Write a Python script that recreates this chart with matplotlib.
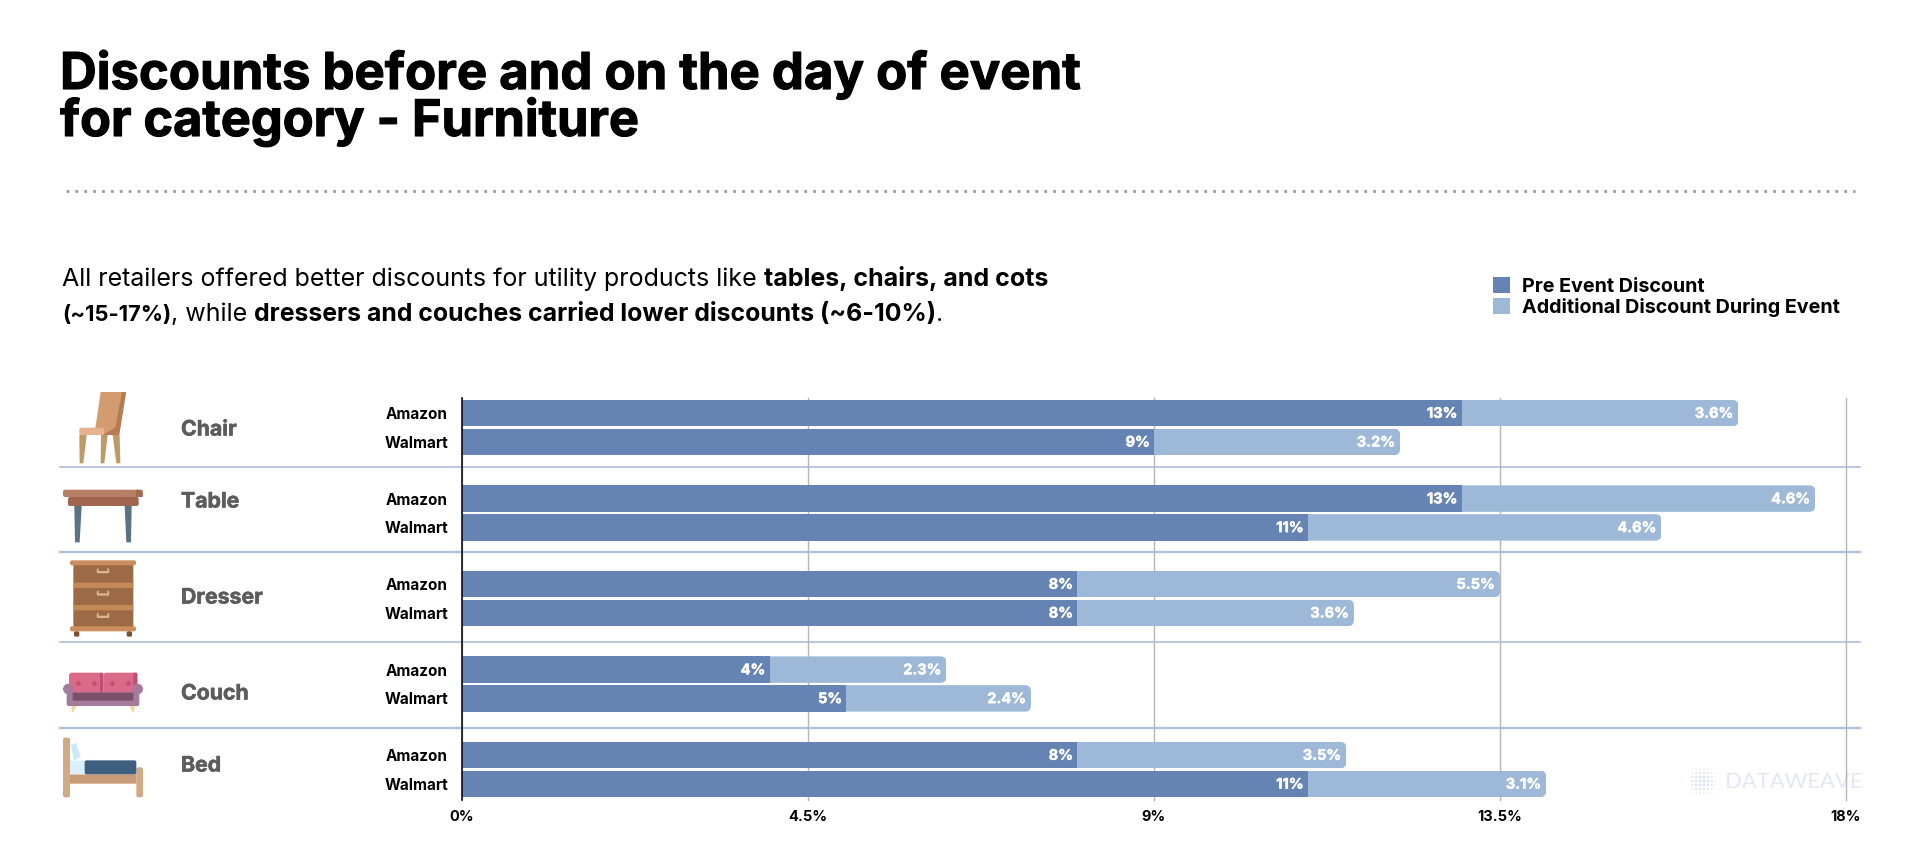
import matplotlib
matplotlib.use("Agg")
import matplotlib.pyplot as plt
import matplotlib.patheffects as pe
import numpy as np
from matplotlib.patches import FancyBboxPatch, Polygon, Circle

# data
categories = ["Chair", "Table", "Dresser", "Couch", "Bed"]
retailers = ["Amazon", "Walmart"]
pre_amazon = [13, 13, 8, 4, 8]
pre_walmart = [9, 11, 8, 5, 11]
add_amazon = [3.6, 4.6, 5.5, 2.3, 3.5]
add_walmart = [3.2, 4.6, 3.6, 2.4, 3.1]
xticks = [0, 4.5, 9, 13.5, 18]
xticklabels = ["0%", "4.5%", "9%", "13.5%", "18%"]

DARK = "#6584b3"
LIGHT = "#9db9d7"
FONT = "Inter"
W, H = 1920, 850

fig = plt.figure(figsize=(W / 100, H / 100), dpi=100, facecolor="white")
plt.rcParams["font.family"] = [FONT, "DejaVu Sans"]

# overlay in pixel coords for the layout stuff
bg = fig.add_axes([0, 0, 1, 1], zorder=0)
bg.set_xlim(0, W)
bg.set_ylim(H, 0)
bg.axis("off")

# main chart
left, right, top, bottom = 462, 1846, 398, 800
ax = fig.add_axes([left / W, 1 - bottom / H, (right - left) / W, (bottom - top) / H], zorder=2)
ax.patch.set_alpha(0)
pitch = 85.5
ax.set_xlim(0, 18)
ax.set_ylim((bottom - 427.5) / pitch, (top - 427.5) / pitch)

off = 14.4 / pitch
bar_h = 26.5 / pitch
idx = np.arange(len(categories))
y_all = np.concatenate([idx - off, idx + off])
pre = np.array(pre_amazon + pre_walmart)
add = np.array(add_amazon + add_walmart)

pre_bars = ax.barh(y_all, pre, height=bar_h, color=DARK, zorder=3, label="Pre Event Discount")
add_bars = ax.barh(y_all, add, left=pre, height=bar_h, color=LIGHT, zorder=3,
                   label="Additional Discount During Event")

# rounded right end of the light bars
r = 6 / 76.9
for b in add_bars:
    clip = FancyBboxPatch((b.get_x() - 1, b.get_y()), b.get_width() + 1, b.get_height(),
                          boxstyle=f"round,pad=0,rounding_size={r}", mutation_aspect=76.9 / pitch,
                          transform=ax.transData)
    b.set_clip_path(clip)

thick = [pe.withStroke(linewidth=0.35, foreground="white")]
for y, p, a in zip(y_all, pre, add):
    ax.annotate(f"{p}%", xy=(p, y), xytext=(-3, -0.5), textcoords="offset points", ha="right", va="center",
                color="white", fontsize=10.5, fontweight="bold", zorder=5, path_effects=thick)
    ax.annotate(f"{a}%", xy=(p + a, y), xytext=(-3.5, -0.5), textcoords="offset points", ha="right", va="center",
                color="white", fontsize=10.5, fontweight="bold", zorder=5, path_effects=thick)

ax.set_yticks(y_all, [retailers[0]] * 5 + [retailers[1]] * 5, fontsize=11, fontweight="bold", color="black")
ax.set_xticks(xticks, xticklabels, fontsize=10.5, fontweight="bold", color="black")
ax.tick_params(axis="y", length=0, pad=10)
ax.tick_params(axis="x", length=0, pad=7)
ax.grid(axis="x", color="#b5b5b5", lw=1, zorder=1, clip_on=False)
ax.set_axisbelow(True)
for s in ["top", "right", "bottom"]:
    ax.spines[s].set_visible(False)
ax.spines["left"].set_color("black")
ax.spines["left"].set_linewidth(1.1)
ax.spines["left"].set_zorder(6)

# legend
fig.legend(handles=[pre_bars, add_bars], loc="upper left", bbox_to_anchor=(1475 / W, 1 - 259 / H),
           frameon=False, handlelength=0.86, handleheight=0.9, handletextpad=0.62,
           labelspacing=0.12, prop={"family": FONT, "weight": "bold", "size": 14.2})

# title
title_fx = [pe.withStroke(linewidth=0.8, foreground="black")]
bg.text(60, 89, "Discounts before and on the day of event", fontsize=36.6, fontweight="bold", color="black",
        va="baseline", path_effects=title_fx)
bg.text(60, 136, "for category - Furniture", fontsize=36.3, fontweight="bold", color="black",
        va="baseline", path_effects=title_fx)

# dotted line
bg.plot([66, 1855], [191, 191], color="#9a9a9a", lw=2, ls=(0, (1, 2.2)))

# subtitle with bold parts
def rich(x, y, parts):
    rend = fig.canvas.get_renderer()
    for s, w, size in parts:
        t = bg.text(x, y, s, fontsize=size, fontweight=w, color="black", va="baseline")
        t.set_parse_math(False)
        x = t.get_window_extent(rend).x1
    return x

rich(62, 286, [("All retailers offered better discounts for utility products like ", "normal", 18),
               ("tables, chairs, and cots", "bold", 18)])
rich(62, 321, [("(~15-17%)", "bold", 15.8), (", while ", "normal", 18),
               ("dressers and couches carried lower discounts (~6-10%)", "bold", 17.9), (".", "normal", 18)])

# separators
for y, lw in zip([467, 552, 642, 728], [1.2, 1.6, 1.2, 1.6]):
    bg.plot([60, 1860], [y, y], color="#adbfda", lw=lw, zorder=1)

# category names
cat_y = [429.5, 501.5, 597.5, 693.5, 765.5]
for c, y in zip(categories, cat_y):
    bg.text(181, y, c, fontsize=15.3, fontweight="bold", color="#5c5c5c", va="center",
            path_effects=[pe.withStroke(linewidth=0.4, foreground="#5c5c5c")])

def poly(pts, oy, color):
    bg.add_patch(Polygon([(40 + a / 3, oy + b / 3) for a, b in pts], closed=True, fc=color, ec="none", zorder=2))

def box(x0, y0, x1, y1, oy, color, rad=3):
    bg.add_patch(FancyBboxPatch((40 + x0 / 3, oy + y0 / 3), (x1 - x0) / 3, (y1 - y0) / 3,
                                boxstyle=f"round,pad=0,rounding_size={rad}", fc=color, ec="none", zorder=2))

# chair
poly([(182, 36), (258, 36), (236, 165), (163, 165)], 380, "#D39B70")
poly([(246, 36), (258, 38), (238, 165), (190, 165), (226, 142)], 380, "#B67B52")
box(118, 143, 192, 165, 380, "#E6B391", 2)
poly([(118, 165), (140, 165), (130, 250), (119, 250)], 380, "#BF9A66")
poly([(183, 165), (203, 165), (193, 250), (182, 250)], 380, "#BF9A66")
poly([(218, 165), (239, 165), (241, 250), (229, 250)], 380, "#BF9A66")

# table
box(69, 329, 308, 351, 380, "#B67F66", 2)
poly([(288, 329), (308, 332), (308, 351), (288, 351)], 380, "#A5694F")
box(84, 351, 296, 378, 380, "#A0664F", 2)
poly([(103, 378), (125, 378), (119, 487), (105, 487)], 380, "#5A7383")
poly([(254, 378), (275, 378), (273, 487), (259, 487)], 380, "#5A7383")

# dresser
box(100, 550, 280, 745, 380, "#9C6B45", 0)
box(90, 541, 288, 556, 380, "#CB8D5D", 2)
box(100, 608, 280, 624, 380, "#C58857", 0)
box(100, 675, 280, 691, 380, "#C58857", 0)
box(90, 739, 288, 754, 380, "#CB8D5D", 2)
box(102, 754, 118, 770, 380, "#7F4F2F", 1.5)
box(260, 754, 276, 770, 380, "#7F4F2F", 1.5)
for hy in [565, 632, 699]:
    box(170, hy, 208, hy + 15, 380, "#DDB48E", 1.5)
    box(176, hy - 2, 202, hy + 8, 380, "#9C6B45", 0)

# couch
box(87, 128, 188, 192, 630, "#DB6A8A", 3)
box(190, 128, 292, 192, 630, "#DB6A8A", 3)
box(180, 128, 190, 192, 630, "#BE4F73", 1)
box(280, 128, 292, 192, 630, "#BE4F73", 1)
for dx in [113, 162, 215, 265]:
    bg.scatter(40 + dx / 3, 630 + 158 / 3, s=9, marker="D", color="#BE4F73", lw=0, zorder=3)
box(80, 186, 298, 228, 630, "#A57B9C", 2)
box(98, 188, 280, 212, 630, "#7B5069", 1)
for cx in [85, 293]:
    bg.add_patch(Circle((40 + cx / 3, 630 + 177 / 3), 5.3, fc="#A57B9C", ec="none", zorder=2))
poly([(94, 228), (110, 228), (100, 247), (96, 247)], 630, "#F3D7A8")
poly([(268, 228), (284, 228), (282, 247), (278, 247)], 630, "#F3D7A8")

# bed
box(69, 323, 90, 502, 630, "#D0A985", 2)
box(289, 412, 309, 502, 630, "#D0A985", 2)
box(90, 433, 289, 461, 630, "#C89B78", 0)
box(90, 392, 135, 433, 630, "#DCF0FB", 0)
poly([(92, 345), (108, 338), (122, 380), (102, 392)], 630, "#CDE9F8")
box(134, 391, 289, 433, 630, "#3F5F80", 2)

# watermark
gx, gy = np.meshgrid(np.arange(8) * 4.0 + 1692, np.arange(7) * 4.0 + 769)
dist = np.hypot(gx - 1702, gy - 781)
bg.scatter(gx.ravel(), gy.ravel(), s=(7 - dist.ravel() * 0.45).clip(0.4), color="#dfe6f3", lw=0, zorder=3)
bg.text(1725, 782, "DATAWEAVE", fontsize=15.8, family="Lato", color="#e2e8f4", va="center", zorder=3)

fig.savefig("out.png", dpi=100)
